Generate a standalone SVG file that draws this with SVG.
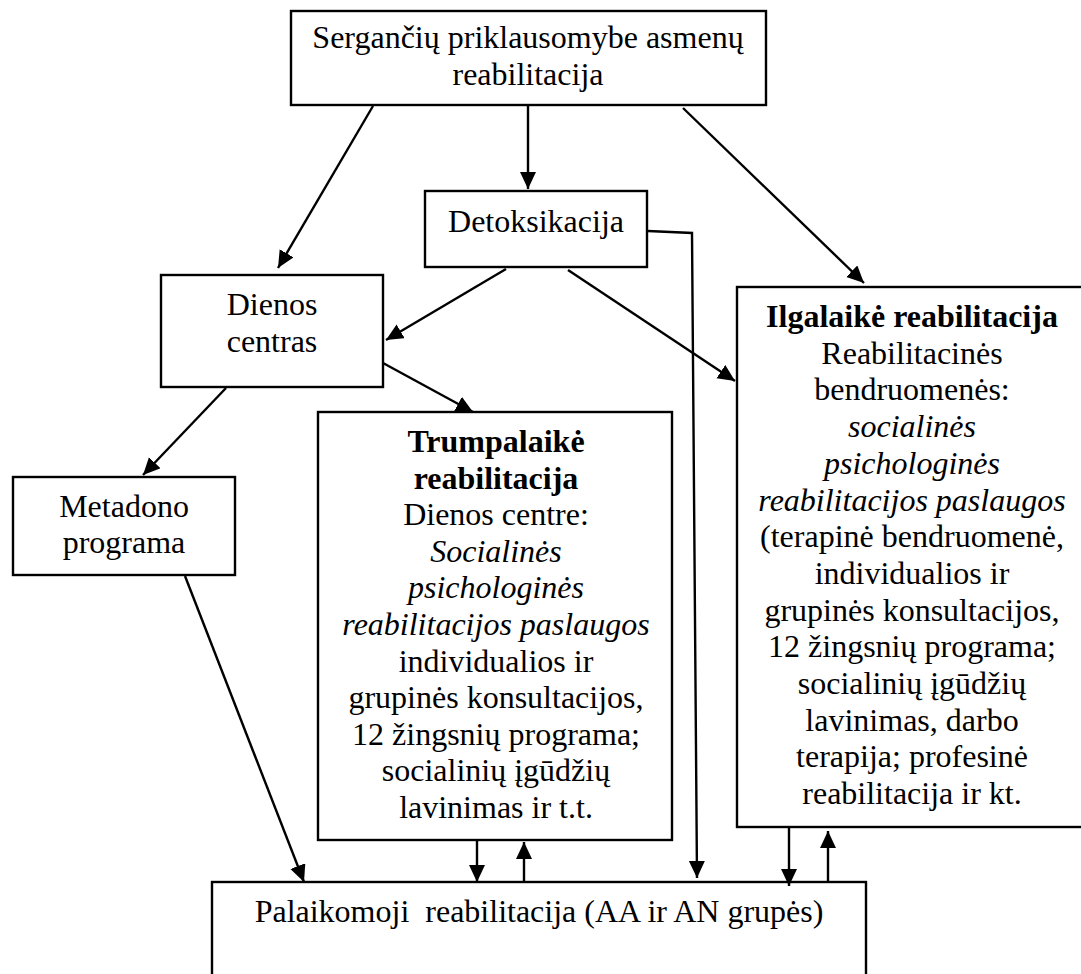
<svg xmlns="http://www.w3.org/2000/svg" width="1081" height="974" viewBox="0 0 1081 974">
<style>
  .box { fill: #fff; stroke: #000; stroke-width: 2.4; }
  .t { font-family: "Liberation Serif", "Times New Roman", serif; font-size: 32px; fill: #000; text-anchor: middle; }
  .b { font-weight: bold; }
  .i { font-style: italic; }
  .c { stroke: #000; stroke-width: 2.4; fill: none; marker-end: url(#ah); }
</style>
<defs>
  <marker id="ah" markerUnits="userSpaceOnUse" markerWidth="19" markerHeight="17" refX="17" refY="8" orient="auto">
    <path d="M0,0 L17,8 L0,16 z" fill="#000"/>
  </marker>
</defs>
<rect width="1081" height="974" fill="#fff"/>

<g id="n-top">
  <rect class="box" x="291" y="11" width="475" height="94"/>
  <text class="t" x="528" y="48">Sergančių priklausomybe asmenų</text>
  <text class="t" x="528" y="85">reabilitacija</text>
</g>

<g id="n-detox">
  <rect class="box" x="425" y="191" width="222" height="76"/>
  <text class="t" x="536" y="232">Detoksikacija</text>
</g>

<g id="n-dienos">
  <rect class="box" x="161" y="275" width="222" height="112"/>
  <text class="t" x="272" y="315">Dienos</text>
  <text class="t" x="272" y="352">centras</text>
</g>

<g id="n-metadono">
  <rect class="box" x="13" y="477" width="222" height="98"/>
  <text class="t" x="124" y="517">Metadono</text>
  <text class="t" x="124" y="553">programa</text>
</g>

<g id="n-trumpalaike">
  <rect class="box" x="318" y="412" width="354" height="428"/>
  <text class="t b" x="496" y="452">Trumpalaikė</text>
  <text class="t b" x="496" y="488.6">reabilitacija</text>
  <text class="t" x="496" y="525.2">Dienos centre:</text>
  <text class="t i" x="496" y="561.8">Socialinės</text>
  <text class="t i" x="496" y="598.4">psichologinės</text>
  <text class="t i" x="496" y="635">reabilitacijos paslaugos</text>
  <text class="t" x="496" y="671.6">individualios ir</text>
  <text class="t" x="496" y="708.2">grupinės konsultacijos,</text>
  <text class="t" x="496" y="744.8">12 žingsnių programa;</text>
  <text class="t" x="496" y="781.4">socialinių įgūdžių</text>
  <text class="t" x="496" y="818">lavinimas ir t.t.</text>
</g>

<g id="n-ilgalaike">
  <rect class="box" x="737" y="287" width="352" height="540"/>
  <text class="t b" x="912" y="327">Ilgalaikė reabilitacija</text>
  <text class="t" x="912" y="363.7">Reabilitacinės</text>
  <text class="t" x="912" y="400.4">bendruomenės:</text>
  <text class="t i" x="912" y="437.1">socialinės</text>
  <text class="t i" x="912" y="473.8">psichologinės</text>
  <text class="t i" x="912" y="510.5">reabilitacijos paslaugos</text>
  <text class="t" x="912" y="547.2">(terapinė bendruomenė,</text>
  <text class="t" x="912" y="583.9">individualios ir</text>
  <text class="t" x="912" y="620.6">grupinės konsultacijos,</text>
  <text class="t" x="912" y="657.3">12 žingsnių programa;</text>
  <text class="t" x="912" y="694">socialinių įgūdžių</text>
  <text class="t" x="912" y="730.7">lavinimas, darbo</text>
  <text class="t" x="912" y="767.4">terapija; profesinė</text>
  <text class="t" x="912" y="804.1">reabilitacija ir kt.</text>
</g>

<g id="n-palaikomoji">
  <rect class="box" x="212" y="882" width="654" height="110"/>
  <text class="t" x="539" y="922" xml:space="preserve">Palaikomoji  reabilitacija (AA ir AN grupės)</text>
</g>

<g id="connectors">
  <line class="c" x1="373" y1="106" x2="278" y2="268"/>
  <line class="c" x1="528" y1="106" x2="528" y2="189"/>
  <line class="c" x1="683" y1="108" x2="864" y2="283"/>
  <line class="c" x1="506" y1="269" x2="386" y2="340"/>
  <line class="c" x1="568" y1="270" x2="735" y2="381"/>
  <polyline class="c" points="648,231 692,233 697,878"/>
  <line class="c" x1="383" y1="363" x2="473" y2="412"/>
  <line class="c" x1="226" y1="388" x2="143" y2="475"/>
  <line class="c" x1="185" y1="576" x2="304" y2="882"/>
  <line class="c" x1="477" y1="841" x2="477" y2="882"/>
  <line class="c" x1="524" y1="882" x2="524" y2="842"/>
  <line class="c" x1="789" y1="828" x2="789" y2="886"/>
  <line class="c" x1="828" y1="882" x2="828" y2="831"/>
</g>
</svg>
